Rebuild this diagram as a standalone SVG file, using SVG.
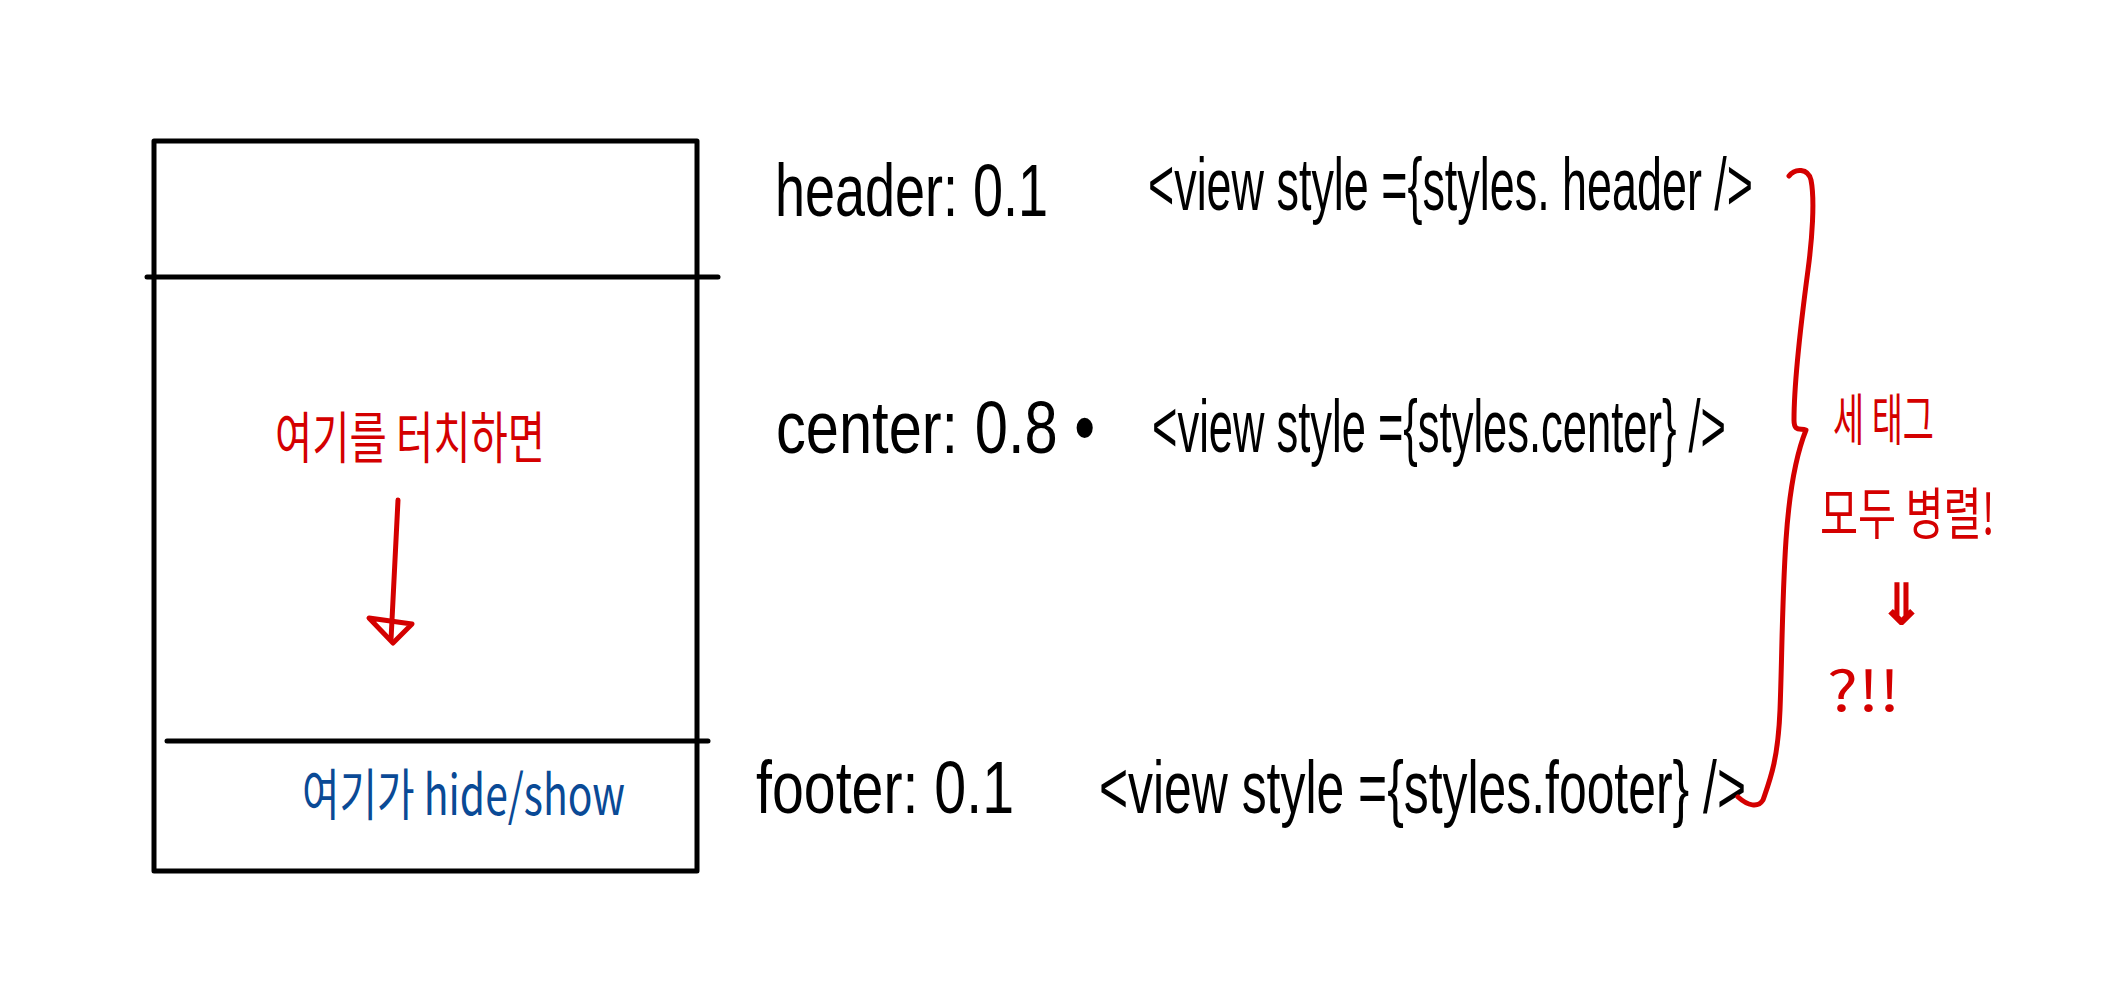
<svg xmlns="http://www.w3.org/2000/svg" width="2106" height="999" viewBox="0 0 2106 999">
<style>
.ink{fill:none;stroke:#000;stroke-width:5;stroke-linecap:round;stroke-linejoin:round}
.red{fill:none;stroke:#d40000;stroke-width:5;stroke-linecap:round;stroke-linejoin:round}
.t{font-family:"Liberation Sans","DejaVu Sans",sans-serif;fill:#000;font-size:74px}
.k{font-family:"Noto Sans CJK KR","Noto Sans",sans-serif;font-size:56px}
.r{fill:#d40000}
.b{fill:#0a4a96}
</style>
<rect width="2106" height="999" fill="#fff"/>
<g id="screen">
<rect class="ink" x="154" y="141" width="543" height="730"/>
<line class="ink" x1="147" y1="277" x2="718" y2="277"/>
<line class="ink" x1="167" y1="741" x2="708" y2="741"/>
</g>
<g id="touch-label">
<text class="k r" x="275" y="458" font-size="60" textLength="270" lengthAdjust="spacingAndGlyphs">여기를 터치하면</text>
</g>
<g id="footer-label">
<text class="k b" x="302" y="815" textLength="323" lengthAdjust="spacingAndGlyphs">여기가 hide/show</text>
</g>
<g id="header-row">
<text class="t" x="775" y="216" textLength="273" lengthAdjust="spacingAndGlyphs">header: 0.1</text>
<text class="t" x="1148" y="210" textLength="605" lengthAdjust="spacingAndGlyphs">&lt;view style ={styles. header /&gt;</text>
</g>
<g id="center-row">
<text class="t" x="776" y="453" textLength="319" lengthAdjust="spacingAndGlyphs">center: 0.8 •</text>
<text class="t" x="1152" y="452" textLength="574" lengthAdjust="spacingAndGlyphs">&lt;view style ={styles.center} /&gt;</text>
</g>
<g id="footer-row">
<text class="t" x="756" y="813" textLength="258" lengthAdjust="spacingAndGlyphs">footer: 0.1</text>
<text class="t" x="1099" y="813" textLength="647" lengthAdjust="spacingAndGlyphs">&lt;view style ={styles.footer} /&gt;</text>
</g>
<g id="note">
<text class="k r" x="1833" y="440" textLength="101" lengthAdjust="spacingAndGlyphs">세 태그</text>
<text class="k r" x="1820" y="534" textLength="175" lengthAdjust="spacingAndGlyphs">모두 병렬!</text>
<text class="k r" x="1878" y="624" font-size="52" font-weight="bold">⇓</text>
<text class="k r" x="1827" y="711" font-size="62" textLength="73" lengthAdjust="spacingAndGlyphs">?!!</text>
</g>
<g id="connectors">
<path class="red" d="M398,500 L391,640"/>
<path class="red" d="M369,618 L412,624 L393,643 Z"/>
<path class="red" d="M1789,176 C1795,168 1808,168 1811,180 C1815,200 1812,240 1808,270 C1800,330 1794,380 1794,420 C1794,432 1800,428 1806,430 C1798,450 1790,480 1786,540 C1782,600 1782,660 1780,710 C1778,760 1770,780 1763,800 C1758,808 1748,806 1738,797"/>
</g>
</svg>
